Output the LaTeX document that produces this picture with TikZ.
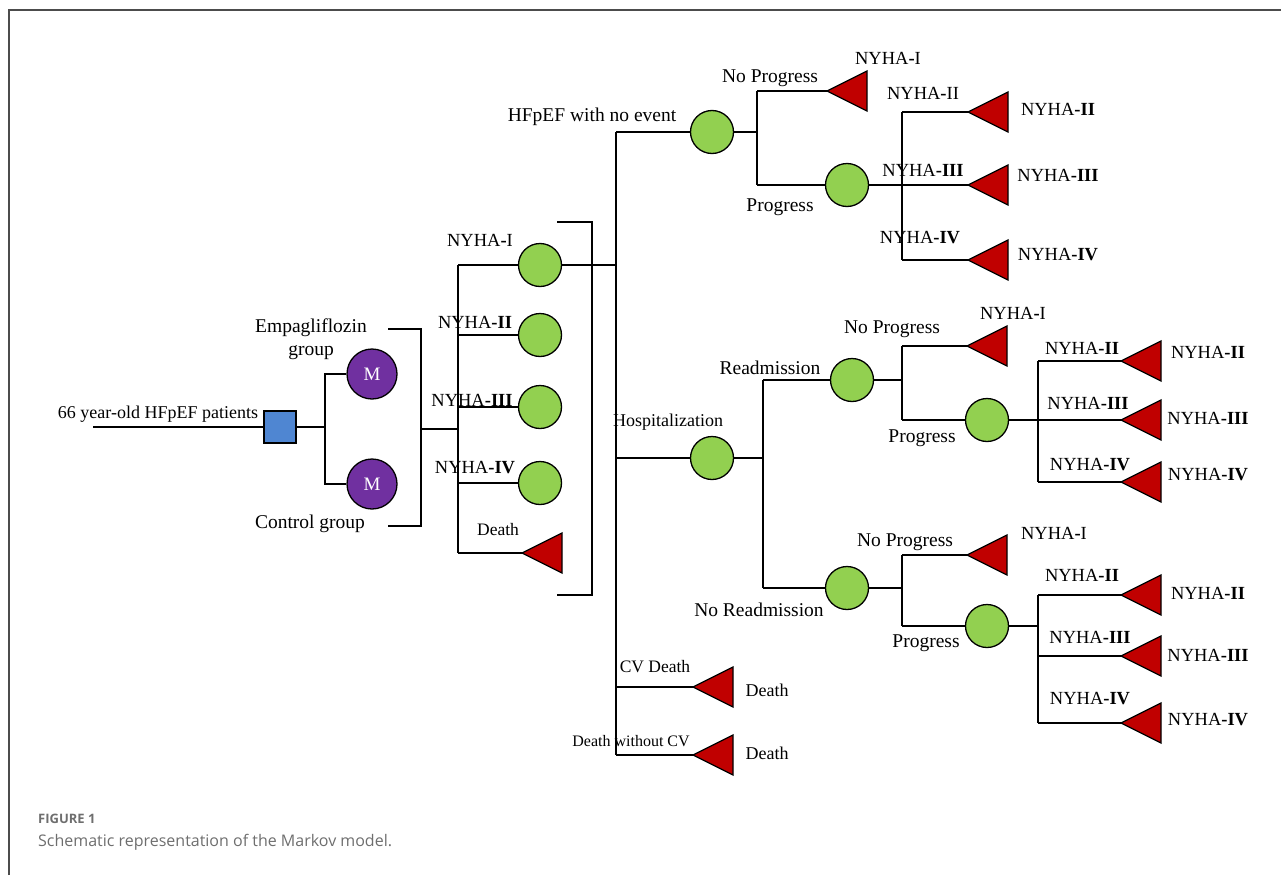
\documentclass[tikz,border=0pt]{standalone}
\usepackage{fontspec}
\setmainfont{Liberation Serif}
\newfontfamily\capfont{Open Sans}
\definecolor{gfill}{RGB}{146,208,80}
\definecolor{rfill}{RGB}{192,0,0}
\definecolor{pfill}{RGB}{112,48,160}
\definecolor{bfill}{RGB}{79,134,210}
\definecolor{capgray}{RGB}{110,110,110}
\newcommand\fsz[1]{\fontsize{#1}{#1}\selectfont}
\newcommand\termtri[2]{\coordinate (#1) at (#2);
  \filldraw[tristyle] (#1) -- ++(40,-20) -- ++(0,40) -- cycle;}
\begin{document}
\begin{tikzpicture}[x=1pt,y=-1pt,
  conn/.style={draw=black,line width=1.3pt},
  gcirc/.style={circle,draw=black,line width=1.3pt,fill=gfill,minimum size=43pt,inner sep=0pt},
  mcirc/.style={circle,draw=black,line width=1.3pt,fill=pfill,minimum size=50pt,inner sep=0pt,text=white,font=\fsz{19}},
  sqbox/.style={rectangle,draw=black,line width=1.3pt,fill=bfill,minimum size=32pt,inner sep=0pt},
  tristyle/.style={draw=black,line width=1.3pt,fill=rfill},
  lab/.style={inner sep=0pt,font=\fsz{19.5}},
  nyl/.style={inner sep=0pt,font=\fsz{18.5}},
  framestyle/.style={draw=black!70,line width=1.5pt}]
\useasboundingbox (0,0) rectangle (1281,875);
\draw[framestyle] (9,875) -- (9,10) -- (1281,10);

% ---- root ----
\coordinate (root) at (93,427);
\node[sqbox] (sq) at (280,427) {};
\coordinate (ja) at (325,427);
\node[mcirc] (m1) at (372,374) {M};
\node[mcirc] (m2) at (372,484) {M};
\draw[conn] (root) -- (sq);
\draw[conn] (sq) -- (ja);
\draw[conn] (ja) |- (m1);
\draw[conn] (ja) |- (m2);
\node[lab,font=\fsz{18}] (lroot) at (158,414) {66 year-old HFpEF patients};
\node[lab] (lemp) at (311,328) {Empagliflozin};
\node[lab] (lgrp) at (311,353) {group};
\node[lab] (lctl) at (310,524) {Control group};

% ---- bracket 1 ----
\coordinate (bA1) at (388,329);
\coordinate (bA2) at (421,329);
\coordinate (bA3) at (421,526);
\coordinate (bA4) at (388,526);
\coordinate (bAm) at (421,429);
\coordinate (jb) at (458,429);
\draw[conn] (bA1) -- (bA2) -- (bA3) -- (bA4);
\draw[conn] (bAm) -- (jb);
\coordinate (jbt) at (458,265);
\coordinate (jbb) at (458,553);
\draw[conn] (jbt) -- (jbb);
\node[gcirc] (n1) at (540,265) {};
\node[gcirc] (n2) at (540,335) {};
\node[gcirc] (n3) at (540,407) {};
\node[gcirc] (n4) at (540,483) {};
\draw[conn] (jbt) -- (n1);
\draw[conn] (jbt |- n2) -- (n2);
\draw[conn] (jbt |- n3) -- (n3);
\draw[conn] (jbt |- n4) -- (n4);
\termtri{d0}{522,553}
\draw[conn] (jbb) -- (d0);
\node[nyl] (ln1) at (480,240) {NYHA\textbf{-}I};
\node[nyl] (ln2) at (475,322) {NYHA\textbf{-II}};
\node[nyl] (ln3) at (472,400) {NYHA\textbf{-III}};
\node[nyl] (ln4) at (475,468) {NYHA\textbf{-IV}};
\node[lab,font=\fsz{17.5}] (ld0) at (498,530) {Death};

% ---- bracket 2 ----
\coordinate (bB1) at (557,222);
\coordinate (bB2) at (592,222);
\coordinate (bB3) at (592,595);
\coordinate (bB4) at (557,595);
\draw[conn] (bB1) -- (bB2) -- (bB3) -- (bB4);

% ---- trunk ----
\coordinate (tt) at (616,132);
\coordinate (tb) at (616,755);
\draw[conn] (tt) -- (tb);
\draw[conn] (n1) -- (n1 -| tt);

% ---- HFpEF with no event ----
\node[gcirc] (h1) at (712,132) {};
\draw[conn] (tt) -- (h1);
\node[lab] (lh1) at (592,117) {HFpEF with no event};
\coordinate (jc) at (757,132);
\draw[conn] (h1) -- (jc);
\coordinate (jct) at (757,91);
\coordinate (jcb) at (757,185);
\draw[conn] (jct) -- (jcb);
\termtri{t1}{827,91}
\draw[conn] (jct) -- (t1);
\node[gcirc] (p1) at (847,185) {};
\draw[conn] (jcb) -- (p1);
\node[lab] (lnp1) at (770,78) {No Progress};
\node[nyl] (lt1) at (888,58) {NYHA\textbf{-}I};
\node[lab] (lpr1) at (780,207) {Progress};
\coordinate (jdt) at (902,112);
\coordinate (jdb) at (902,260);
\draw[conn] (jdt) -- (jdb);
\termtri{t2}{968,112}
\termtri{t3}{968,185}
\termtri{t4}{968,260}
\draw[conn] (p1) -- (t3);
\draw[conn] (jdt) -- (t2);
\draw[conn] (jdb) -- (t4);
\node[nyl] (lt2a) at (923,93) {NYHA\textbf{-}II};
\node[nyl] (lt3a) at (923,170) {NYHA\textbf{-III}};
\node[nyl] (lt4a) at (920,238) {NYHA\textbf{-IV}};
\node[nyl] (lt2b) at (1058,109) {NYHA\textbf{-II}};
\node[nyl] (lt3b) at (1058,175) {NYHA\textbf{-III}};
\node[nyl] (lt4b) at (1058,255) {NYHA\textbf{-IV}};

% ---- Hospitalization ----
\node[gcirc] (h2) at (712,458) {};
\draw[conn] (tt |- h2) -- (h2);
\node[lab,font=\fsz{18}] (lh2) at (668,422) {Hospitalization};
\coordinate (je) at (763,458);
\draw[conn] (h2) -- (je);
\coordinate (jet) at (763,380);
\coordinate (jeb) at (763,588);
\draw[conn] (jet) -- (jeb);

% Readmission
\node[gcirc] (r1) at (852,380) {};
\draw[conn] (jet) -- (r1);
\node[lab] (lr1) at (770,368) {Readmission};
\coordinate (jf) at (902,380);
\draw[conn] (r1) -- (jf);
\coordinate (jft) at (902,346);
\coordinate (jfb) at (902,420);
\draw[conn] (jft) -- (jfb);
\termtri{t5}{967,346}
\draw[conn] (jft) -- (t5);
\node[gcirc] (p2) at (987,420) {};
\draw[conn] (jfb) -- (p2);
\node[lab] (lnp2) at (892,329) {No Progress};
\node[nyl] (lt5) at (1013,313) {NYHA\textbf{-}I};
\node[lab] (lpr2) at (922,438) {Progress};
\coordinate (jgt) at (1038,361);
\coordinate (jgb) at (1038,482);
\draw[conn] (jgt) -- (jgb);
\termtri{t6}{1121,361}
\termtri{t7}{1121,420}
\termtri{t8}{1121,482}
\draw[conn] (p2) -- (t7);
\draw[conn] (jgt) -- (t6);
\draw[conn] (jgb) -- (t8);
\node[nyl] (lt6a) at (1082,348) {NYHA\textbf{-II}};
\node[nyl] (lt7a) at (1088,403) {NYHA\textbf{-III}};
\node[nyl] (lt8a) at (1090,465) {NYHA\textbf{-IV}};
\node[nyl] (lt6b) at (1208,352) {NYHA\textbf{-II}};
\node[nyl] (lt7b) at (1208,418) {NYHA\textbf{-III}};
\node[nyl] (lt8b) at (1208,475) {NYHA\textbf{-IV}};

% No Readmission
\node[gcirc] (r2) at (847,588) {};
\draw[conn] (jeb) -- (r2);
\node[lab] (lr2) at (759,610) {No Readmission};
\coordinate (jh) at (902,588);
\draw[conn] (r2) -- (jh);
\coordinate (jht) at (902,555);
\coordinate (jhb) at (902,626);
\draw[conn] (jht) -- (jhb);
\termtri{t9}{967,555}
\draw[conn] (jht) -- (t9);
\node[gcirc] (p3) at (987,626) {};
\draw[conn] (jhb) -- (p3);
\node[lab] (lnp3) at (905,542) {No Progress};
\node[nyl] (lt9) at (1054,533) {NYHA\textbf{-}I};
\node[lab] (lpr3) at (926,643) {Progress};
\coordinate (ji) at (1038,626);
\draw[conn] (p3) -- (ji);
\coordinate (jit) at (1038,595);
\coordinate (jib) at (1038,723);
\draw[conn] (jit) -- (jib);
\termtri{t10}{1121,595}
\termtri{t11}{1121,656}
\termtri{t12}{1121,723}
\draw[conn] (jit) -- (t10);
\draw[conn] (jit |- t11) -- (t11);
\draw[conn] (jib) -- (t12);
\node[nyl] (lt10a) at (1082,575) {NYHA\textbf{-II}};
\node[nyl] (lt11a) at (1090,637) {NYHA\textbf{-III}};
\node[nyl] (lt12a) at (1090,699) {NYHA\textbf{-IV}};
\node[nyl] (lt10b) at (1208,593) {NYHA\textbf{-II}};
\node[nyl] (lt11b) at (1208,655) {NYHA\textbf{-III}};
\node[nyl] (lt12b) at (1208,720) {NYHA\textbf{-IV}};

% ---- deaths ----
\termtri{t13}{693,687}
\termtri{t14}{693,755}
\draw[conn] (tt |- t13) -- (t13);
\draw[conn] (tb) -- (t14);
\node[lab,font=\fsz{17.5}] (lcv) at (655,667) {CV Death};
\node[lab,font=\fsz{18}] (ld13) at (767,690) {Death};
\node[lab,font=\fsz{16}] (lwcv) at (631,741) {Death without CV};
\node[lab,font=\fsz{18}] (ld14) at (767,753) {Death};

% ---- caption ----
\node[anchor=west,inner sep=0pt,text=capgray,font=\capfont\fsz{13}\bfseries] (cap1) at (38,819) {FIGURE 1};
\node[anchor=west,inner sep=0pt,text=capgray,font=\capfont\fsz{16}] (cap2) at (38,842) {Schematic representation of the Markov model.};
\end{tikzpicture}
\end{document}
